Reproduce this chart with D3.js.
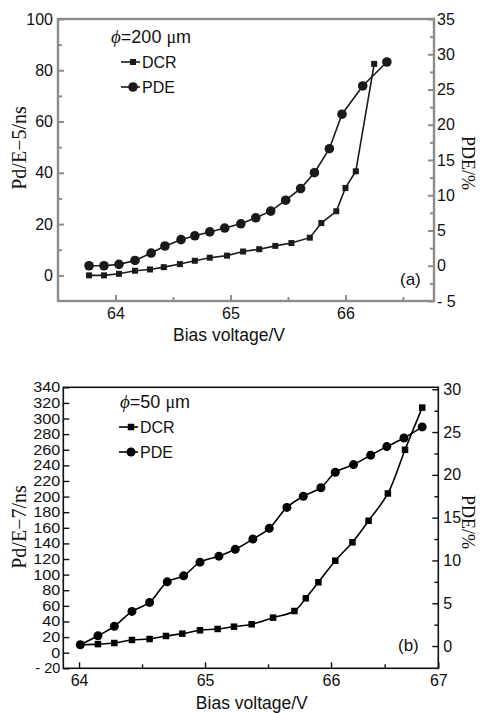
<!DOCTYPE html>
<html>
<head>
<meta charset="utf-8">
<script src="https://cdn.jsdelivr.net/npm/d3@7"></script>
<style>
    body { margin: 0; background: #fff; }
    svg { display: block; }
    .sans { font-family: "Liberation Sans", Arial, sans-serif; }
    .serif { font-family: "Liberation Serif", "Times New Roman", serif; }
</style>
</head>
<body>
<svg id="chart" width="481" height="713"></svg>
<script>
// Panel (a), phi = 200 um.
const topVoltDCR = [63.77, 63.90, 64.03, 64.17, 64.30, 64.42, 64.56, 64.69, 64.82, 64.97, 65.11, 65.25, 65.39, 65.53, 65.69, 65.79, 65.92, 66.00, 66.09, 66.25];
const topDCR = [0, 0, 0.6, 1.8, 2.3, 3.2, 4.4, 5.7, 6.9, 7.7, 9.3, 10.2, 11.5, 12.6, 14.7, 20.4, 25.0, 34.1, 40.6, 82.5];
const topVoltPDE = [63.77, 63.90, 64.03, 64.17, 64.31, 64.43, 64.57, 64.69, 64.82, 64.95, 65.09, 65.22, 65.35, 65.48, 65.61, 65.73, 65.86, 65.97, 66.15, 66.36];
const topPDE = [0, 0, 0.2, 0.75, 1.8, 2.8, 3.7, 4.25, 4.8, 5.35, 5.95, 6.8, 7.75, 9.3, 10.95, 13.2, 16.6, 21.5, 25.5, 28.9];

// Panel (b), phi = 50 um.
const botVoltDCR = [64.01, 64.15, 64.28, 64.42, 64.56, 64.69, 64.82, 64.96, 65.10, 65.23, 65.37, 65.54, 65.71, 65.80, 65.90, 66.04, 66.20, 66.35, 66.53, 66.69, 66.85];
const botDCR = [10.3, 11, 12.4, 16.3, 17.5, 21.4, 24.4, 28.7, 30.4, 33.3, 36.4, 44.9, 53.4, 69.7, 90.2, 117.9, 141.4, 169, 204, 260, 314];
const botVoltPDE = [64.01, 64.15, 64.28, 64.42, 64.56, 64.70, 64.83, 64.96, 65.11, 65.24, 65.38, 65.51, 65.65, 65.78, 65.92, 66.04, 66.21, 66.37, 66.52, 66.68, 66.85];
const botPDE = [0.15, 1.2, 2.3, 4.05, 5.1, 7.5, 8.2, 9.8, 10.5, 11.3, 12.5, 13.75, 16.2, 17.5, 18.5, 20.3, 21.2, 22.3, 23.3, 24.3, 25.6];

// Ticks.
const topXTicks = [64, 65, 66];
const topXMinor = [64.5, 65.5, 66.5];
const topLeftTicks = [0, 20, 40, 60, 80, 100];
const topLeftMinor = [10, 30, 50, 70, 90];
const topRightTicks = [-5, 0, 5, 10, 15, 20, 25, 30, 35];
const topRightMinor = [-2.5, 2.5, 7.5, 12.5, 17.5, 22.5, 27.5, 32.5];
const botXTicks = [64, 65, 66, 67];
const botXMinor = [64.5, 65.5, 66.5];
const botLeftTicks = d3.range(-20, 341, 20);
const botRightTicks = [0, 5, 10, 15, 20, 25, 30];
const botRightMinor = [2.5, 7.5, 12.5, 17.5, 22.5, 27.5];

const svg = d3.select('#chart');

const fmtMinus = d => (d < 0 ? '- ' + Math.abs(d) : String(d));

const Panel = (opt) => {
    const g = svg.append('g');
    const {x, yl, yr, box} = opt;

    // Frame.
    g.append('rect')
        .attr('x', box.l).attr('y', box.t)
        .attr('width', box.r - box.l).attr('height', box.b - box.t)
        .attr('fill', 'none')
        .attr('stroke', opt.frame)
        .attr('stroke-width', opt.frameWidth);

    const styleAxis = (sel, size) => {
        sel.select('.domain').remove();
        sel.selectAll('line').attr('stroke', opt.frame).attr('stroke-width', opt.tickWidth);
        sel.selectAll('text')
            .attr('class', 'sans')
            .attr('font-size', size)
            .attr('fill', '#111');
    };

    // X axis.
    g.append('g').attr('transform', `translate(0,${box.b})`)
        .call(d3.axisBottom(x).tickValues(opt.xTicks).tickSize(-6).tickPadding(opt.xPad).tickFormat(d3.format('d')))
        .call(s => styleAxis(s, 16));
    g.append('g').attr('transform', `translate(0,${box.b})`)
        .call(d3.axisBottom(x).tickValues(opt.xMinor).tickSize(-4).tickFormat(''))
        .call(s => styleAxis(s, 16));

    // Left axis.
    const left = g.append('g').attr('transform', `translate(${box.l},0)`)
        .call(d3.axisLeft(yl).tickValues(opt.lTicks).tickSize(-6).tickPadding(opt.lPad).tickFormat(fmtMinus))
        .call(s => styleAxis(s, opt.lFont));
    if (opt.lSqueeze) {
        // condensed labels, width set per digit
        left.selectAll('text')
            .attr('textLength', d => String(Math.abs(d)).length * opt.lSqueeze + (d < 0 ? 7 : 0))
            .attr('lengthAdjust', 'spacingAndGlyphs');
    }
    if (opt.lMinor) {
        g.append('g').attr('transform', `translate(${box.l},0)`)
            .call(d3.axisLeft(yl).tickValues(opt.lMinor).tickSize(-4).tickFormat(''))
            .call(s => styleAxis(s, 16));
    }

    // Right axis.
    g.append('g').attr('transform', `translate(${box.r},0)`)
        .call(d3.axisRight(yr).tickValues(opt.rTicks).tickSize(-6).tickPadding(opt.rPad).tickFormat(fmtMinus))
        .call(s => styleAxis(s, 16));
    g.append('g').attr('transform', `translate(${box.r},0)`)
        .call(d3.axisRight(yr).tickValues(opt.rMinor).tickSize(-4).tickFormat(''))
        .call(s => styleAxis(s, 16));

    // Series.
    const dcr = opt.dcrV.map((v, i) => [x(v), yl(opt.dcr[i])]);
    const pde = opt.pdeV.map((v, i) => [x(v), yr(opt.pde[i])]);
    const line = d3.line().curve(opt.curve || d3.curveLinear);

    g.append('path').attr('d', line(dcr))
        .attr('fill', 'none').attr('stroke', opt.ink).attr('stroke-width', 1.6);
    g.append('path').attr('d', line(pde))
        .attr('fill', 'none').attr('stroke', opt.ink).attr('stroke-width', 1.6);

    g.selectAll('.sq').data(dcr).join('rect')
        .attr('x', d => d[0] - opt.sq / 2).attr('y', d => d[1] - opt.sq / 2)
        .attr('width', opt.sq).attr('height', opt.sq)
        .attr('fill', opt.ink);
    g.selectAll('.dot').data(pde).join('circle')
        .attr('cx', d => d[0]).attr('cy', d => d[1])
        .attr('r', opt.dot)
        .attr('fill', opt.ink);

    // Legend.
    const lg = opt.legend;
    const phi = g.append('text').attr('class', 'sans')
        .attr('x', lg.x).attr('y', lg.y).attr('font-size', 18).attr('fill', '#111');
    phi.append('tspan').attr('class', 'serif').attr('font-style', 'italic').attr('font-size', 19).text('ϕ');
    phi.append('tspan').text(`=${lg.size} `);
    phi.append('tspan').attr('class', 'serif').attr('font-size', 18).text('μ');
    phi.append('tspan').text('m');

    [['DCR', lg.y + lg.gap, 'sq'], ['PDE', lg.y + lg.gap * 2, 'dot']].forEach(([name, yy, kind]) => {
        g.append('line')
            .attr('x1', lg.lx).attr('x2', lg.lx + 19)
            .attr('y1', yy - 6).attr('y2', yy - 6)
            .attr('stroke', opt.ink).attr('stroke-width', 1.6);
        if (kind === 'sq') {
            g.append('rect')
                .attr('x', lg.lx + 12 - opt.sq / 2).attr('y', yy - 6 - opt.sq / 2)
                .attr('width', opt.sq).attr('height', opt.sq).attr('fill', opt.ink);
        } else {
            g.append('circle').attr('cx', lg.lx + 12).attr('cy', yy - 6).attr('r', opt.dot).attr('fill', opt.ink);
        }
        g.append('text').attr('class', 'sans')
            .attr('x', lg.lx + 21).attr('y', yy).attr('font-size', 16).attr('fill', '#111')
            .text(name);
    });

    // Panel tag.
    g.append('text').attr('class', 'sans')
        .attr('x', opt.tag.x).attr('y', opt.tag.y)
        .attr('font-size', 17).attr('fill', '#111')
        .text(opt.tag.text);

    // Axis titles.
    g.append('text').attr('class', 'sans')
        .attr('x', (box.l + box.r) / 2 + opt.xTitleDx).attr('y', opt.xTitleY)
        .attr('text-anchor', 'middle').attr('font-size', 17.5).attr('fill', '#111')
        .text('Bias voltage/V');
    g.append('text').attr('class', 'serif')
        .attr('transform', `translate(${opt.lTitle.x},${opt.lTitle.y}) rotate(-90)`)
        .attr('text-anchor', 'middle').attr('font-size', 20).attr('fill', '#111')
        .text(opt.lTitle.text);
    g.append('text').attr('class', 'serif')
        .attr('transform', `translate(${opt.rTitle.x},${opt.rTitle.y}) rotate(90)`)
        .attr('text-anchor', 'middle').attr('font-size', 18).attr('fill', '#111')
        .text('PDE/%');
};

// (a)
const boxA = {l: 58, r: 434, t: 19, b: 301};
Panel({
    box: boxA,
    x: d3.scaleLinear().domain([63.5, 66.77]).range([boxA.l, boxA.r]),
    yl: d3.scaleLinear().domain([-10, 100]).range([boxA.b, boxA.t]),
    yr: d3.scaleLinear().domain([-5, 35]).range([boxA.b, boxA.t]),
    frame: '#8c8c8c', frameWidth: 2.4, tickWidth: 2, ink: '#1a1a1a',
    xTicks: topXTicks, xMinor: topXMinor, xPad: 7,
    lTicks: topLeftTicks, lMinor: topLeftMinor, lPad: 5, lFont: 16,
    rTicks: topRightTicks, rMinor: topRightMinor, rPad: 3,
    dcrV: topVoltDCR, dcr: topDCR, pdeV: topVoltPDE, pde: topPDE,
    sq: 6, dot: 4.8,
    legend: {x: 111, y: 43, gap: 25, lx: 121, size: 200},
    tag: {x: 400, y: 285, text: '(a)'},
    xTitleDx: -17, xTitleY: 341,
    lTitle: {x: 26, y: 148, text: 'Pd/E−5/ns'},
    rTitle: {x: 462, y: 163}
});

// (b)
const boxB = {l: 63.3, r: 438.3, t: 387.3, b: 668.3};
Panel({
    box: boxB,
    x: d3.scaleLinear().domain([63.875, 66, 67]).range([boxB.l, 331, boxB.r]),
    yl: d3.scaleLinear().domain([-20, 340]).range([boxB.b, boxB.t]),
    yr: d3.scaleLinear().domain([-2.6, 30.23]).range([boxB.b, boxB.t]),
    frame: '#111', frameWidth: 1.6, tickWidth: 1.4, ink: '#000',
    curve: d3.curveCatmullRom.alpha(0.5),
    xTicks: botXTicks, xMinor: botXMinor, xPad: 6,
    lTicks: botLeftTicks, lMinor: null, lPad: 3, lFont: 14, lSqueeze: 9,
    rTicks: botRightTicks, rMinor: botRightMinor, rPad: 5,
    dcrV: botVoltDCR, dcr: botDCR, pdeV: botVoltPDE, pde: botPDE,
    sq: 6.5, dot: 4.5,
    legend: {x: 120, y: 408, gap: 25, lx: 119, size: 50},
    tag: {x: 398, y: 651, text: '(b)'},
    xTitleDx: 1, xTitleY: 709,
    lTitle: {x: 26, y: 527, text: 'Pd/E−7/ns'},
    rTitle: {x: 462, y: 522}
});
</script>
</body>
</html>
